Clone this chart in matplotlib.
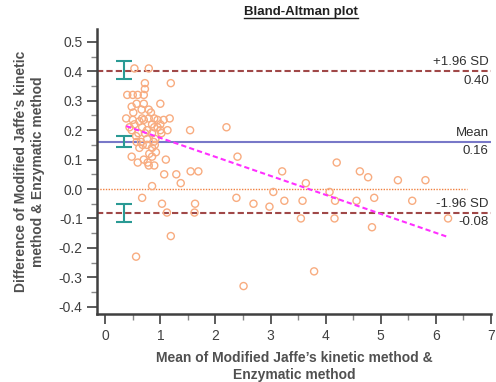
import matplotlib
matplotlib.use("Agg")
import matplotlib.pyplot as plt
from matplotlib.lines import Line2D
import numpy as np

plt.rcParams['font.family'] = ['Liberation Sans', 'DejaVu Sans']

# mean of the two methods (x) and their difference (y)
mean_vals = [0.53, 0.79, 0.72, 1.19, 0.72, 0.40, 0.50, 0.59, 0.70, 1.00, 0.57, 0.70,
             0.48, 0.79, 0.51, 0.38, 0.67, 0.79, 0.89, 1.17, 0.50, 0.70, 0.95, 1.06,
             0.53, 0.85, 1.00, 0.67, 0.89, 2.20, 1.54, 0.48, 0.76, 1.00, 1.13, 0.60,
             0.85, 1.02, 0.76, 0.91, 0.57, 0.65, 0.88, 0.76, 0.68, 0.85, 0.92, 0.48,
             0.85, 2.40, 0.70, 1.10, 0.59, 0.77, 0.79, 0.89, 1.07, 1.29, 1.55, 1.69,
             1.37, 0.85, 0.62, 0.83, 0.95, 0.72, 0.62, 0.80, 0.90, 0.66, 0.44, 0.56,
             3.21, 3.64, 3.05, 2.38, 2.69, 2.98, 3.25, 3.58, 1.62, 3.55, 1.63,
             4.20, 4.62, 4.77, 5.31, 5.81, 4.07, 4.17, 4.56, 4.88, 5.57, 4.16, 4.84, 6.22,
             3.79, 0.67, 1.03, 1.12, 1.19, 0.56, 2.51]
diff_vals = [0.41, 0.41, 0.36, 0.36, 0.34, 0.32, 0.32, 0.32, 0.32, 0.29, 0.29, 0.29,
             0.28, 0.27, 0.26, 0.24, 0.24, 0.24, 0.24, 0.24, 0.235, 0.235, 0.235, 0.235,
             0.22, 0.22, 0.22, 0.21, 0.21, 0.21, 0.20, 0.20, 0.20, 0.20, 0.20, 0.19,
             0.19, 0.19, 0.17, 0.17, 0.16, 0.16, 0.16, 0.15, 0.15, 0.14, 0.125, 0.11,
             0.11, 0.11, 0.10, 0.10, 0.09, 0.09, 0.08, 0.08, 0.05, 0.05, 0.06, 0.06,
             0.02, 0.01, 0.23, 0.26, 0.21, 0.19, 0.14, 0.12, 0.15, 0.27, 0.21, 0.18,
             0.06, 0.02, -0.01, -0.03, -0.05, -0.06, -0.04, -0.04, -0.08, -0.10, -0.05,
             0.09, 0.06, 0.04, 0.03, 0.03, -0.01, -0.04, -0.04, -0.03, -0.04, -0.10, -0.13, -0.10,
             -0.28, -0.03, -0.05, -0.08, -0.16, -0.23, -0.33]

mean_diff = 0.16
upper_loa = 0.40
lower_loa = -0.08
# confidence intervals (low, high) of the three lines
ci_upper = (0.374, 0.435)
ci_mean = (0.143, 0.180)
ci_lower = (-0.112, -0.050)
ci_x = 0.35

# regression of difference on mean
reg_intercept = 0.2385
reg_slope = -0.0646
reg_xrange = (0.38, 6.22)

y_ticks = [-0.4, -0.3, -0.2, -0.1, 0.0, 0.1, 0.2, 0.3, 0.4, 0.5]
y_ticklabels = ["-0.4", "-0.3", "-0.2", "-0.1", "0.0", "0.1", "0.2", "0.3", "0.4", "0.5"]

fig = plt.figure(figsize=(4.96, 3.82), dpi=100)
ax = fig.add_axes([0.196, 0.178, 0.794, 0.746])

gray = "#404040"
ax.axhline(upper_loa, color="#a04848", lw=1.5, ls=(0, (3, 1.5)))
ax.axhline(lower_loa, color="#a04848", lw=1.5, ls=(0, (3, 1.5)))
ax.axhline(mean_diff, color="#7878c8", lw=1.5)
ax.plot([-0.145, 6.57], [0, 0], color="#f08040", lw=1.0, ls=(0, (1, 1)))

ax.scatter(mean_vals, diff_vals, s=26, facecolors="none", edgecolors="#f8ac80",
           linewidths=1.0, zorder=3)

rx = np.array(reg_xrange)
ax.plot(rx, reg_intercept + reg_slope * rx, color="#ff30ff", lw=1.5,
        ls=(0, (2.5, 1.5)), zorder=4)

for lo, hi in [ci_upper, ci_mean, ci_lower]:
    c = (lo + hi) / 2
    ax.errorbar([ci_x], [c], yerr=[[c - lo], [hi - c]], fmt="none",
                ecolor="#2a9a94", elinewidth=1.5, capsize=6, capthick=1.5, zorder=5)

tx = 6.96
ax.text(tx, upper_loa + 0.01, "+1.96 SD", ha="right", va="bottom", fontsize=9.5, color="#303030")
ax.text(tx, upper_loa - 0.012, "0.40", ha="right", va="top", fontsize=9.5, color="#303030")
ax.text(tx, mean_diff + 0.01, "Mean", ha="right", va="bottom", fontsize=9.5, color="#303030")
ax.text(tx, mean_diff - 0.012, "0.16", ha="right", va="top", fontsize=9.5, color="#303030")
ax.text(tx, lower_loa + 0.01, "-1.96 SD", ha="right", va="bottom", fontsize=9.5, color="#303030")
ax.text(tx, lower_loa - 0.012, "-0.08", ha="right", va="top", fontsize=9.5, color="#303030")

ax.set_xlim(-0.145, 7)
ax.set_ylim(-0.425, 0.544)
ax.set_xticks(range(0, 8))
ax.set_xticks(np.arange(0.5, 7, 1), minor=True)
ax.set_yticks(y_ticks)
ax.set_yticks(np.arange(-0.35, 0.5, 0.1), minor=True)
ax.set_yticklabels(y_ticklabels)

for s in ["top", "right"]:
    ax.spines[s].set_visible(False)
for s in ["left", "bottom"]:
    ax.spines[s].set_color(gray)
    ax.spines[s].set_linewidth(1.8)
ax.tick_params(which="major", length=7, width=1.2, color=gray, labelcolor=gray, labelsize=10)
ax.tick_params(which="minor", length=4, width=1.0, color="#888888")

ax.set_xlabel("Mean of Modified Jaffe’s kinetic method &\nEnzymatic method",
              fontsize=10, fontweight="bold", color="#505050", linespacing=1.25, labelpad=6)
ax.set_ylabel("Difference of Modified Jaffe’s kinetic\nmethod & Enzymatic method",
              fontsize=10, fontweight="bold", color="#505050", linespacing=1.25, labelpad=10)

title = fig.text(0.607, 0.953, "Bland-Altman plot", ha="center", va="bottom",
                 fontsize=9.5, fontweight="bold", color="#202020")
fig.canvas.draw()
bb = title.get_window_extent().transformed(fig.transFigure.inverted())
fig.add_artist(Line2D([bb.x0, bb.x1], [bb.y0 + 0.001, bb.y0 + 0.001],
                      color="#202020", lw=1.0))

fig.savefig("out.png", dpi=100)
